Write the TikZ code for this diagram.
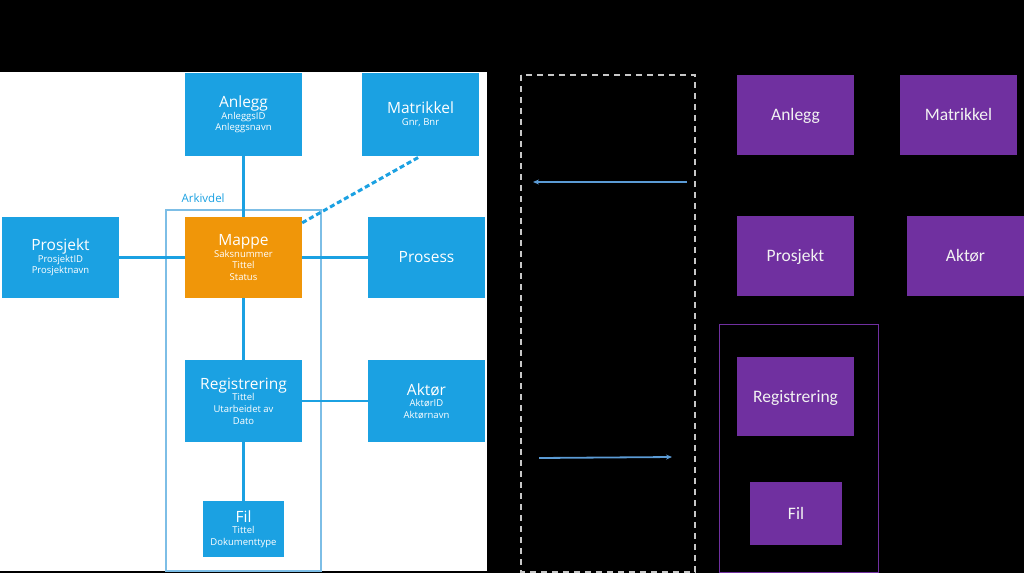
\documentclass[tikz,border=0pt]{standalone}
\usepackage{fontspec}
\setmainfont{Open Sans}
\newfontfamily\calibrifont{Carlito}
\usetikzlibrary{arrows.meta}
\usepackage{xcolor}

\definecolor{metroblue}{RGB}{27,161,226}
\definecolor{metroorange}{RGB}{240,150,9}
\definecolor{archpurple}{RGB}{112,48,160}
\definecolor{arrowblue}{RGB}{91,155,213}
\definecolor{frameblue}{RGB}{125,190,230}
\definecolor{dashgray}{RGB}{200,200,200}

\newcommand{\entitytext}[2]{{\fontsize{15.5}{12}\selectfont #1}\\#2}

\begin{document}
\begin{tikzpicture}[x=1pt,y=-1pt,
		entity/.style={fill=metroblue, text=white, align=center, inner sep=0pt,
			minimum width=117pt, minimum height=82pt, font=\fontsize{9.5}{11.7}\selectfont},
		folder/.style={entity, fill=metroorange},
		purplebox/.style={fill=archpurple, text=white!95!black, inner sep=0pt,
			text height=11pt, text depth=0pt,
			minimum width=117pt, minimum height=80pt, font=\calibrifont\fontsize{17.5}{20}\selectfont},
		link/.style={metroblue, line width=2.5pt},
		flow/.style={arrowblue, line width=1.8pt, -{Stealth[length=6pt,width=5pt]}}]
	% background and panel
	\fill[black] (0,0) rectangle (1024,573);
	\fill[white] (0,72) rectangle (487,571);
	% arkivdel frame
	\draw[frameblue, line width=1.3pt] (166,210) rectangle (321,571);
	\node[metroblue, anchor=west, font=\fontsize{11.5}{13}\selectfont] (arkivdel) at (178,198) {Arkivdel};
	% entities
	\node[entity, minimum height=83pt] (anlegg) at (243.5,114.5) {\entitytext{Anlegg}{AnleggsID\\Anleggsnavn}};
	\node[entity, minimum height=83pt] (matrikkel) at (420.5,114.5) {\entitytext{Matrikkel}{Gnr, Bnr}};
	\node[entity, minimum height=81pt] (prosjekt) at (60.5,257.5) {\entitytext{Prosjekt}{ProsjektID\\Prosjektnavn}};
	\node[folder, minimum height=81pt] (mappe) at (243.5,257.5) {\entitytext{Mappe}{Saksnummer\\Tittel\\Status}};
	\node[entity, minimum height=81pt, font=\fontsize{15.5}{18}\selectfont] (prosess) at (426.5,257.5) {Prosess};
	\node[entity] (registrering) at (243.5,401) {\entitytext{Registrering}{Tittel\\Utarbeidet av\\Dato}};
	\node[entity] (aktor) at (426.5,401) {\entitytext{Aktør}{AktørID\\Aktørnavn}};
	\node[entity, minimum width=81pt, minimum height=56pt] (fil) at (243.5,529) {\entitytext{Fil}{Tittel\\Dokumenttype}};
	% connections
	\draw[link] (anlegg.south) -- (mappe.north);
	\draw[link] (prosjekt.east) -- (mappe.west);
	\draw[link] (mappe.east) -- (prosess.west);
	\draw[link] (mappe.south) -- (registrering.north);
	\draw[link] (registrering.east) -- (aktor.west);
	\draw[link] (registrering.south) -- (fil.north);
	\draw[link, line width=3pt, dash pattern=on 5pt off 3pt] ([yshift=-6pt]mappe.north east) -- (matrikkel.south);
	% right side
	\draw[dashgray, line width=1.5pt, dash pattern=on 6pt off 5pt] (521,75) rectangle (695,572);
	\coordinate (leftfrom) at (687,182);
	\coordinate (leftto) at (533,182);
	\coordinate (rightfrom) at (539,458);
	\coordinate (rightto) at (672,457);
	\draw[flow] (leftfrom) -- (leftto);
	\draw[flow] (rightfrom) -- (rightto);
	\node[purplebox] (panlegg) at (795.5,114.5) {Anlegg};
	\node[purplebox] (pmatrikkel) at (958.5,114.5) {Matrikkel};
	\node[purplebox] (pprosjekt) at (795.5,256) {Prosjekt};
	\node[purplebox] (paktor) at (965.5,256) {Aktør};
	\draw[archpurple, line width=1pt] (719,324) rectangle (878,572);
	\node[purplebox, minimum height=79pt] (pregistrering) at (795.5,396.5) {Registrering};
	\node[purplebox, minimum width=92pt, minimum height=63pt] (pfil) at (796,513.5) {Fil};
\end{tikzpicture}
\end{document}
